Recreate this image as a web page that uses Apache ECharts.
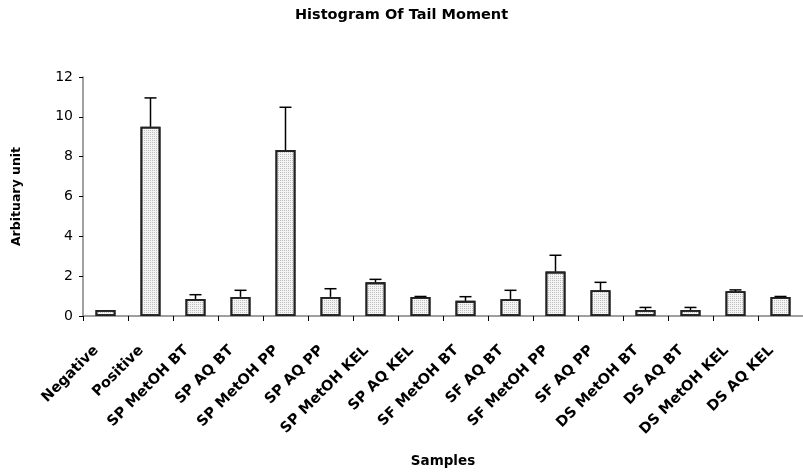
<!DOCTYPE html>
<html>
<head>
<meta charset="utf-8">
<script src="https://cdn.jsdelivr.net/npm/echarts@6/dist/echarts.min.js"></script>
<style>html,body{margin:0;padding:0;background:#fff}#c{width:803px;height:473px}</style>
</head>
<body>
<div id="c"></div>
<script>
const categories = ['Negative','Positive','SP MetOH BT','SP AQ BT','SP MetOH PP','SP AQ PP','SP MetOH KEL','SP AQ KEL','SF MetOH BT','SF AQ BT','SF MetOH PP','SF AQ PP','DS MetOH BT','DS AQ BT','DS MetOH KEL','DS AQ KEL'];
const values = [0.30, 9.50, 0.85, 0.96, 8.33, 0.96, 1.69, 0.96, 0.76, 0.84, 2.23, 1.29, 0.30, 0.30, 1.24, 0.96];
const errors = [0.00, 1.45, 0.22, 0.33, 2.15, 0.41, 0.15, 0.02, 0.21, 0.45, 0.82, 0.40, 0.13, 0.13, 0.07, 0.02];
const yTicks = [0, 2, 4, 6, 8, 10, 12];

const chart = echarts.init(document.getElementById('c'));
const font = 'DejaVu Sans, sans-serif';
chart.setOption({
  animation: false,
  title: {
    text: 'Histogram Of Tail Moment', left: 'center', top: 3,
    textStyle: {fontFamily: font, fontSize: 14.5, fontWeight: 'bold', color: '#000'}
  },
  grid: {left: 83, right: 0, top: 77, bottom: 155},
  xAxis: {
    type: 'category', data: categories,
    name: 'Samples', nameLocation: 'middle', nameGap: 138,
    nameTextStyle: {fontFamily: font, fontSize: 13.5, fontWeight: 'bold', color: '#000'},
    axisLine: {lineStyle: {color: '#808080', width: 1.5}},
    axisTick: {show: true, length: 5, lineStyle: {color: '#000'}},
    axisLabel: {rotate: 45, interval: 0, margin: 23, padding: [0, 13, 0, 0], fontFamily: font, fontSize: 14.5, fontWeight: 'bold', color: '#000'}
  },
  yAxis: {
    type: 'value', min: yTicks[0], max: yTicks[yTicks.length - 1], interval: 2,
    name: 'Arbituary unit', nameLocation: 'middle', nameGap: 60, nameRotate: 90,
    nameTextStyle: {fontFamily: font, fontSize: 12.5, fontWeight: 'bold', color: '#000'},
    splitLine: {show: false},
    axisLine: {show: true, lineStyle: {color: '#808080', width: 1.5}},
    axisTick: {show: true, length: 4, lineStyle: {color: '#000'}},
    axisLabel: {margin: 10, fontFamily: font, fontSize: 14, color: '#000'}
  },
  series: [
    {
      type: 'bar', data: values, barWidth: 20, z: 2,
      itemStyle: {
        color: '#f4f4f4', borderColor: '#222', borderWidth: 1.8,
        decal: {symbol: 'rect', symbolSize: 1, dashArrayX: [1, 1], dashArrayY: [1, 1], color: 'rgba(0,0,0,0.22)'}
      }
    },
    {
      type: 'custom', z: 3,
      data: values.map((v, i) => [i, v, v + errors[i]]),
      renderItem: function (params, api) {
        const i = api.value(0);
        if (errors[i] <= 0) return null;
        const base = api.coord([i, api.value(1)]);
        const top = api.coord([i, api.value(2)]);
        const hw = 6;
        return {
          type: 'group',
          children: [
            {type: 'line', shape: {x1: base[0], y1: base[1], x2: top[0], y2: top[1]}, style: {stroke: '#000', lineWidth: 1.5}},
            {type: 'line', shape: {x1: top[0] - hw, y1: top[1], x2: top[0] + hw, y2: top[1]}, style: {stroke: '#000', lineWidth: 1.5}}
          ]
        };
      }
    }
  ]
});
</script>
</body>
</html>
